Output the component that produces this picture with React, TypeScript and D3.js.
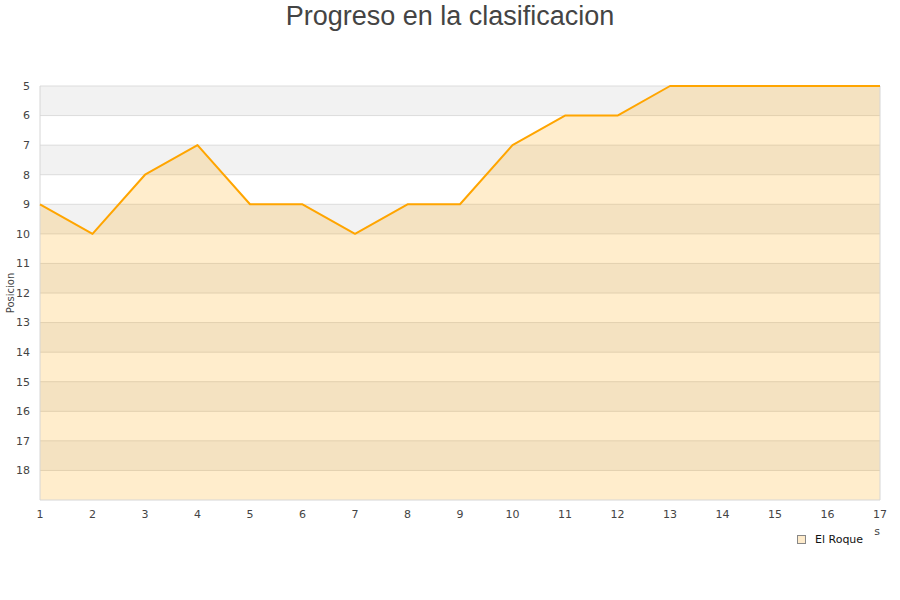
import React from "react";
import * as d3 from "d3";

const jornadas = [1, 2, 3, 4, 5, 6, 7, 8, 9, 10, 11, 12, 13, 14, 15, 16, 17];
const posiciones = [9, 10, 8, 7, 9, 9, 10, 9, 9, 7, 6, 6, 5, 5, 5, 5, 5];
const yTicks = [5, 6, 7, 8, 9, 10, 11, 12, 13, 14, 15, 16, 17, 18];
const serieNombre = "El Roque";

const width = 900;
const height = 600;
const margin = { top: 86, right: 20, bottom: 100, left: 40 };

export default function App() {
  const innerW = width - margin.left - margin.right;
  const innerH = height - margin.top - margin.bottom;

  const x = d3.scaleLinear().domain([1, 17]).range([0, innerW]);
  const y = d3.scaleLinear().domain([5, 19]).range([0, innerH]);

  const data = jornadas.map((j, i) => ({ j, p: posiciones[i] }));

  const line = d3
    .line<{ j: number; p: number }>()
    .x((d) => x(d.j))
    .y((d) => y(d.p));
  const area = d3
    .area<{ j: number; p: number }>()
    .x((d) => x(d.j))
    .y0(innerH)
    .y1((d) => y(d.p));

  const font = "'DejaVu Sans', Verdana, sans-serif";

  return (
    <svg
      width={width}
      height={height}
      style={{ position: "absolute", left: 0, top: 0, background: "#fff" }}
    >
      <defs>
        <clipPath id="xt">
          <rect x={874} y={524} width={12} height={14} />
        </clipPath>
      </defs>
      <text
        x={450}
        y={25}
        textAnchor="middle"
        fontFamily="'Liberation Sans', Arial, sans-serif"
        fontSize={27}
        fill="#444"
      >
        Progreso en la clasificacion
      </text>
      <g transform={`translate(${margin.left},${margin.top})`}>
        {/* alternating bands */}
        {yTicks.map((t, i) =>
          i % 2 === 0 ? (
            <rect
              key={"b" + t}
              x={0}
              y={y(t)}
              width={innerW}
              height={y(t + 1) - y(t)}
              fill="#f2f2f2"
            />
          ) : null
        )}
        {yTicks.map((t) => (
          <line
            key={"g" + t}
            x1={0}
            x2={innerW}
            y1={y(t)}
            y2={y(t)}
            stroke="#dcdcdc"
            strokeWidth={1}
          />
        ))}
        <path d={area(data) || ""} fill="rgba(255,165,0,0.2)" />
        <line x1={0} x2={0} y1={0} y2={innerH} stroke="#d6d6d6" />
        <line x1={innerW} x2={innerW} y1={0} y2={innerH} stroke="#d6d6d6" />
        <line x1={0} x2={innerW} y1={innerH} y2={innerH} stroke="#d6d6d6" />
        <path
          d={line(data) || ""}
          fill="none"
          stroke="#ffa500"
          strokeWidth={2}
          strokeLinejoin="round"
        />
        {yTicks.map((t) => (
          <text
            key={"yt" + t}
            x={-10}
            y={y(t)}
            dy="0.35em"
            textAnchor="end"
            fontFamily={font}
            fontSize={11}
            fill="#444"
          >
            {t}
          </text>
        ))}
        {jornadas.map((j) => (
          <text
            key={"xt" + j}
            x={x(j)}
            y={innerH + 18}
            textAnchor="middle"
            fontFamily={font}
            fontSize={11}
            fill="#444"
          >
            {j}
          </text>
        ))}
      </g>
      <text
        transform={`translate(14,${margin.top + innerH / 2}) rotate(-90)`}
        textAnchor="middle"
        fontFamily={font}
        fontSize={10}
        fill="#444"
      >
        Posicion
      </text>
      <text
        x={880}
        y={535}
        textAnchor="end"
        fontFamily={font}
        fontSize={11}
        fill="#444"
        clipPath="url(#xt)"
      >
        Jornadas
      </text>
      <rect
        x={797.5}
        y={535.5}
        width={8}
        height={8}
        fill="#feebcb"
        stroke="#888"
      />
      <text x={815} y={543} fontFamily={font} fontSize={11} fill="#111">
        {serieNombre}
      </text>
    </svg>
  );
}
